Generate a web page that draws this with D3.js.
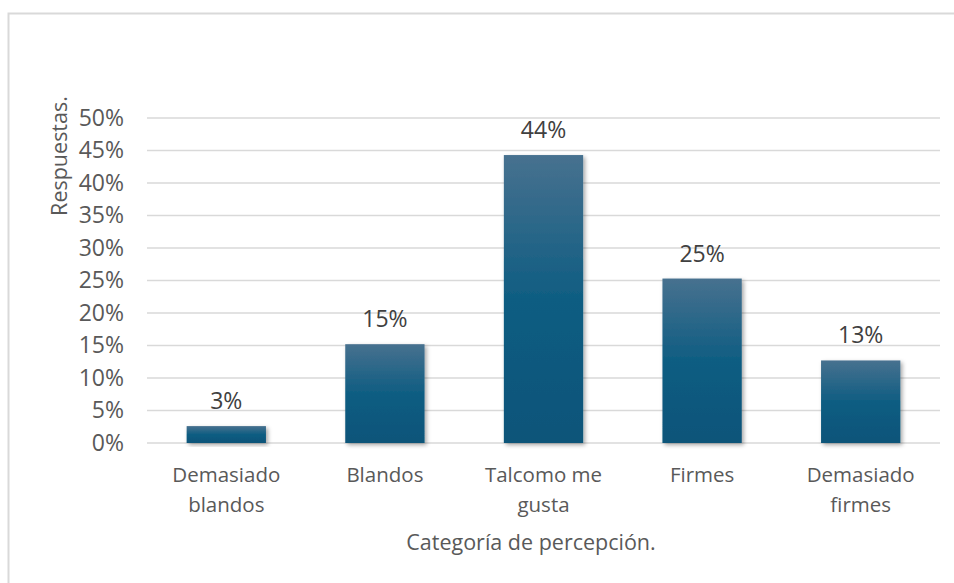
<!DOCTYPE html>
<html>
<head>
<meta charset="utf-8">
<script src="https://cdn.jsdelivr.net/npm/d3@7"></script>
<style>
  html, body { margin: 0; padding: 0; background: #fff; }
  svg { display: block; }
  text { font-family: "Open Sans", "DejaVu Sans", sans-serif; }
</style>
</head>
<body>
<svg id="chart" width="954" height="583"></svg>
<script>
// Perception categories and share of responses
const categories = [["Demasiado", "blandos"], ["Blandos"], ["Talcomo me", "gusta"], ["Firmes"], ["Demasiado", "firmes"]];
const shares = [0.026, 0.152, 0.443, 0.253, 0.127];
const yTicks = [0, 0.05, 0.10, 0.15, 0.20, 0.25, 0.30, 0.35, 0.40, 0.45, 0.50];
const xTitle = "Categoría de percepción.";
const yTitle = "Respuestas.";

const svg = d3.select("#chart");
const W = 954, H = 583;
const plot = { left: 147, right: 940, top: 118, bottom: 443 };

// outer frame
svg.append("rect")
  .attr("x", 8.5).attr("y", 13.5)
  .attr("width", W + 20).attr("height", H + 20)
  .attr("fill", "#fff").attr("stroke", "#d9d9d9").attr("stroke-width", 2);

const defs = svg.append("defs");
const grad = defs.append("linearGradient")
  .attr("id", "barFill").attr("x1", 0).attr("y1", 0).attr("x2", 0).attr("y2", 1);
grad.append("stop").attr("offset", "0%").attr("stop-color", "#47718f");
grad.append("stop").attr("offset", "50%").attr("stop-color", "#0f5d82");
grad.append("stop").attr("offset", "100%").attr("stop-color", "#0b5479");

const shadow = defs.append("filter").attr("id", "barShadow")
  .attr("x", "-20%").attr("y", "-20%").attr("width", "140%").attr("height", "140%");
shadow.append("feDropShadow")
  .attr("dx", 2).attr("dy", 2).attr("stdDeviation", 2.2)
  .attr("flood-color", "#000").attr("flood-opacity", 0.35);

const x = d3.scaleBand()
  .domain(d3.range(categories.length))
  .range([plot.left, plot.right])
  .paddingInner(0.5).paddingOuter(0.25);

const y = d3.scaleLinear().domain([0, 0.5]).range([plot.bottom, plot.top]);

// horizontal gridlines
svg.append("g").selectAll("line").data(yTicks).join("line")
  .attr("x1", plot.left).attr("x2", plot.right)
  .attr("y1", d => y(d)).attr("y2", d => y(d))
  .attr("stroke", "#d9d9d9").attr("stroke-width", 1.5);

// y axis tick labels
const yAxis = d3.axisLeft(y).tickValues(yTicks).tickFormat(d3.format(".0%")).tickSize(0).tickPadding(0);
const gy = svg.append("g").attr("transform", `translate(${plot.left - 23},0)`).call(yAxis);
gy.select(".domain").remove();
gy.selectAll("text")
  .attr("font-size", 23).attr("fill", "#595959")
  .attr("font-family", "\"Open Sans\", sans-serif");

// bars
svg.append("g").selectAll("rect").data(shares).join("rect")
  .attr("x", (d, i) => x(i))
  .attr("width", x.bandwidth())
  .attr("y", d => y(d))
  .attr("height", d => y(0) - y(d))
  .attr("fill", "url(#barFill)")
  .attr("filter", "url(#barShadow)");

// value labels
svg.append("g").selectAll("text").data(shares).join("text")
  .attr("x", (d, i) => x(i) + x.bandwidth() / 2)
  .attr("y", d => y(d) - 17)
  .attr("text-anchor", "middle")
  .attr("font-size", 23).attr("fill", "#404040")
  .text(d => d3.format(".0%")(d));

// category labels
const cat = svg.append("g").selectAll("text").data(categories).join("text")
  .attr("x", (d, i) => x(i) + x.bandwidth() / 2)
  .attr("y", 482)
  .attr("text-anchor", "middle")
  .attr("font-size", 20.5).attr("fill", "#595959");
cat.selectAll("tspan").data(d => d).join("tspan")
  .attr("x", function () { return d3.select(this.parentNode).attr("x"); })
  .attr("dy", (d, i) => i === 0 ? 0 : 30)
  .text(d => d);

// axis titles
svg.append("text")
  .attr("x", 531).attr("y", 550)
  .attr("text-anchor", "middle")
  .attr("font-size", 21.5).attr("fill", "#595959")
  .text(xTitle);

svg.append("text")
  .attr("transform", "translate(67,156) rotate(-90)")
  .attr("text-anchor", "middle")
  .attr("font-size", 21.5).attr("fill", "#595959")
  .text(yTitle);
</script>
</body>
</html>
